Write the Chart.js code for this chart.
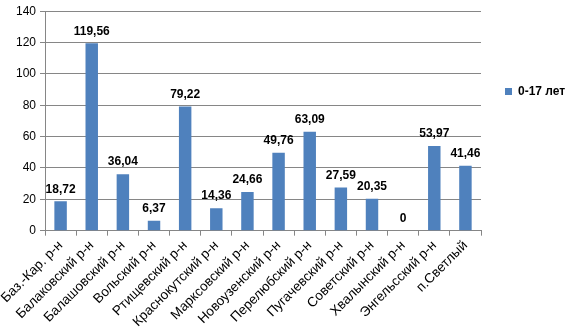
<!DOCTYPE html>
<html>
<head>
<meta charset="utf-8">
<script src="https://cdn.jsdelivr.net/npm/chart.js@4/dist/chart.umd.min.js"></script>
<style>
  html, body { margin: 0; padding: 0; background: #fff; }
  #wrap { width: 573px; height: 334px; position: relative; }
</style>
</head>
<body>
<div id="wrap"><canvas id="chart"></canvas></div>
<script>
// Districts and values
const districts = [
    'Баз.-Кар. р-н', 'Балаковский р-н', 'Балашовский р-н', 'Вольский р-н',
    'Ртищевский р-н', 'Краснокутский р-н', 'Марксовский р-н', 'Новоузенский р-н',
    'Перелюбский р-н', 'Пугачевский р-н', 'Советский р-н', 'Хвалынский р-н',
    'Энгельсский р-н', 'п.Светлый'
];
const values = [18.72, 119.56, 36.04, 6.37, 79.22, 14.36, 24.66, 49.76, 63.09, 27.59, 20.35, 0, 53.97, 41.46];
const seriesName = '0-17 лет';
const yTicks = [0, 20, 40, 60, 80, 100, 120, 140];

const font = '"Liberation Sans", Arial, sans-serif';
const gridColor = '#868686';

// value labels above bars, comma as decimal separator
const valueLabels = {
    id: 'valueLabels',
    afterDatasetsDraw(chart) {
        const ctx = chart.ctx;
        const meta = chart.getDatasetMeta(0);
        ctx.save();
        ctx.font = 'bold 12px ' + font;
        ctx.fillStyle = '#000';
        ctx.textAlign = 'center';
        ctx.textBaseline = 'bottom';
        meta.data.forEach((bar, i) => {
            const v = values[i];
            const txt = v === 0 ? '0' : v.toFixed(2).replace('.', ',');
            ctx.fillText(txt, bar.x, bar.y - 6);
        });
        ctx.restore();
    }
};

new Chart(document.getElementById('chart'), {
    type: 'bar',
    data: {
        labels: districts,
        datasets: [{
            label: seriesName,
            data: values,
            backgroundColor: '#4F81BD',
            borderWidth: 0,
            barPercentage: 0.4,
            categoryPercentage: 1
        }]
    },
    options: {
        responsive: true,
        maintainAspectRatio: false,
        animation: false,
        layout: { padding: { left: 12, top: 9.5, right: 0, bottom: 2 } },
        scales: {
            y: {
                min: yTicks[0],
                max: yTicks[yTicks.length - 1],
                afterBuildTicks: axis => { axis.ticks = yTicks.map(v => ({ value: v })); },
                ticks: { color: '#000', font: { family: font, size: 12 }, padding: 4 },
                grid: { color: gridColor, tickLength: 5 },
                border: { color: gridColor }
            },
            x: {
                ticks: {
                    color: '#000',
                    font: { family: font, size: 13.5 },
                    maxRotation: 45,
                    minRotation: 45,
                    autoSkip: false,
                    padding: 2
                },
                grid: { drawOnChartArea: false, color: gridColor, tickLength: 5, offset: true },
                border: { color: gridColor }
            }
        },
        plugins: {
            tooltip: { enabled: false },
            legend: {
                position: 'right',
                align: 'start',
                maxWidth: 92,
                title: { display: true, text: '', font: { size: 10 }, padding: { top: 40, bottom: 0 } },
                labels: {
                    boxWidth: 7,
                    boxHeight: 7,
                    padding: 24,
                    color: '#000',
                    font: { family: font, size: 12, weight: 'bold' }
                }
            }
        }
    },
    plugins: [valueLabels]
});
</script>
</body>
</html>
